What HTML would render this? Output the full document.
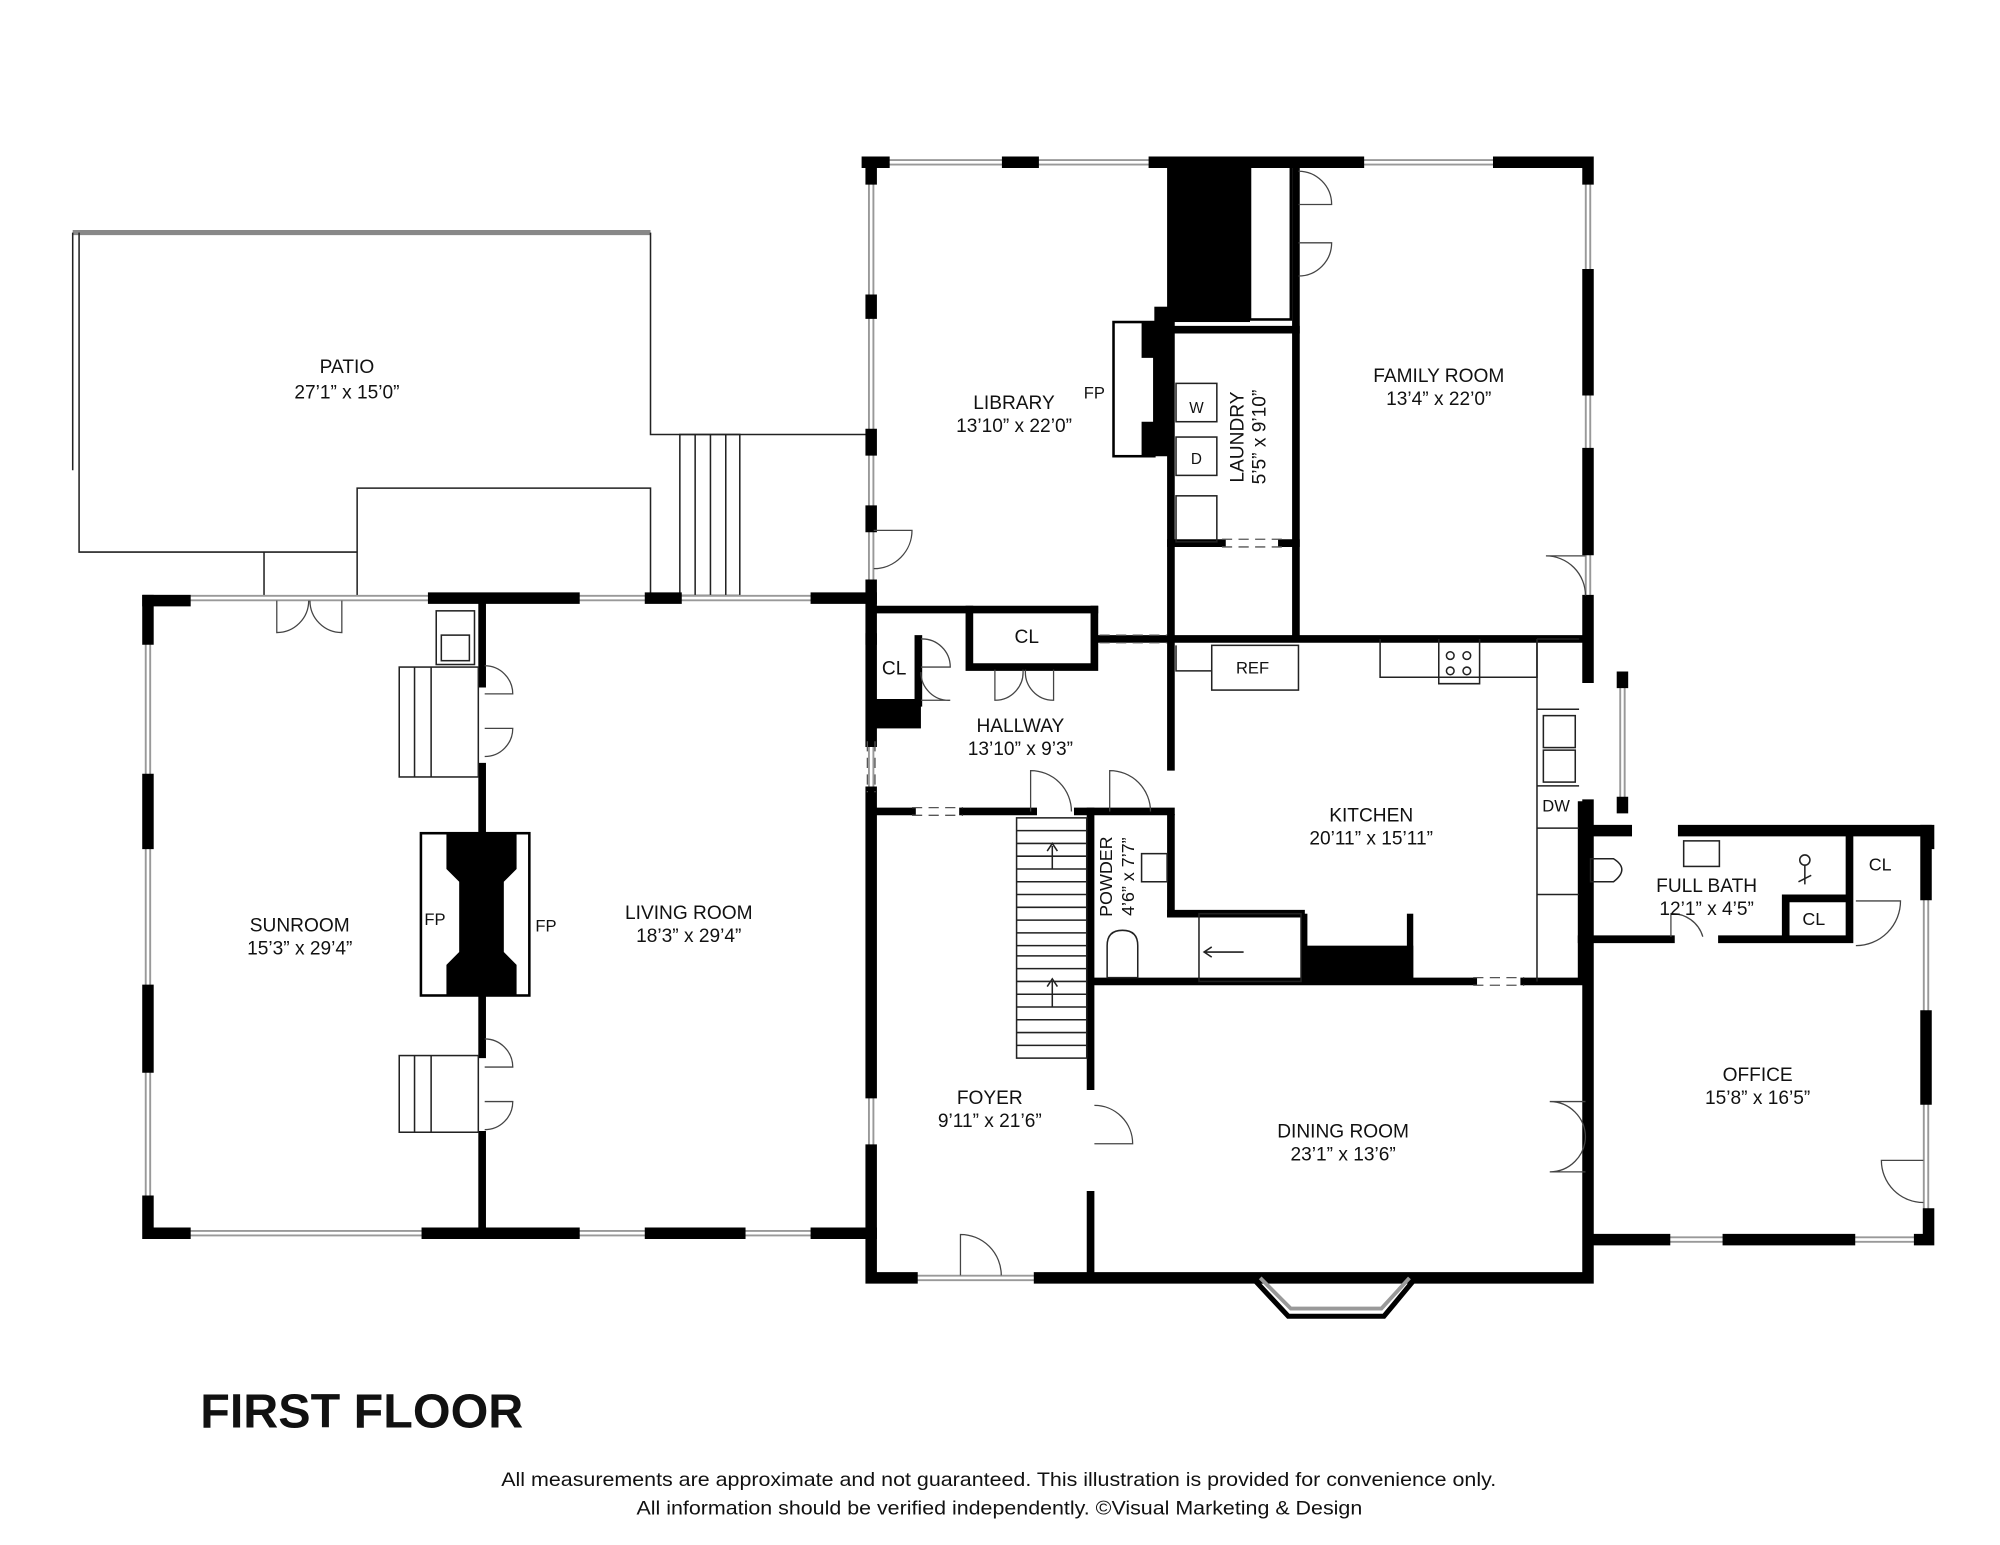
<!DOCTYPE html>
<html><head><meta charset="utf-8"><style>
html,body{margin:0;padding:0;background:#fff;}
svg{display:block}
text{font-family:"Liberation Sans",sans-serif;fill:#111}
.w{stroke:#000;stroke-width:9;stroke-linecap:square;fill:none}
.i{stroke:#000;stroke-width:6;stroke-linecap:square;fill:none}
.g{stroke:#999;stroke-width:5;fill:none}
.gi{stroke:#fff;stroke-width:2;fill:none}
.t{stroke:#222;stroke-width:1.2;fill:none}
.d{stroke:#444;stroke-width:1;fill:none}
</style></head><body>
<svg width="2000" height="1545" viewBox="0 0 1568 1209" preserveAspectRatio="none" xmlns="http://www.w3.org/2000/svg">
<rect width="1568" height="1209" fill="#fff"/>
<g class="t">
<path d="M57 182 L510 182"  stroke="#888" stroke-width="4"/>
<path d="M62 182 L62 432 L280 432"/>
<path d="M57 182 L57 368"/>
<path d="M510 182 L510 340 L683 340"/>
<path d="M280 466 L280 382 L510 382 L510 466"/>
<path d="M207 432 L207 466"/>
<rect x="533" y="340" width="47" height="126"/>
<path d="M545 340 V466 M557 340 V466 M569 340 V466"/>
</g>
<g class="g">
<path d="M116 470 V965 M112 468 H683 M112 965 H683 M683 127 V468 M680 127 H905 M1245 127 V500 M905 127 H1245 M1510 650 V970 M1245 970 H1512 M1272 530 V630 M683 580 V620 M683 855 V900 M715 1000 H815"/>
</g>
<g class="gi">
<path d="M116 470 V965 M112 468 H683 M112 965 H683 M683 127 V468 M680 127 H905 M1245 127 V500 M905 127 H1245 M1510 650 V970 M1245 970 H1512 M1272 530 V630 M683 580 V620 M683 855 V900 M715 1000 H815"/>
</g>
<g class="w">
<path d="M116 470 V500 M116 610 V660 M116 775 V835 M116 940 V965 H145"/>
<path d="M116 470 H145 M340 468 H450 M510 468 H530 M640 468 H683"/>
<path d="M335 965 H450 M510 965 H580 M640 965 H683"/>
<path d="M683 127 V140 M680 127 H693 M790 127 H810 M683 235 V245 M683 340 V352 M683 400 V412 M683 458 V500"/>
<path d="M905 127 H1065 M1175 127 H1245 V140 M1245 215 V305 M1245 355 V430 M1245 470 V530"/>
<path d="M683 500 V580 M683 620 V855 M683 900 V1000 H715 M815 1000 H1245 V975 M1245 630 V970 M1245 970 H1305 M1355 970 H1450 M1505 970 H1512 V950 M1510 650 V700 M1510 795 V860"/>
<path d="M1245 650 H1275 M1320 650 H1512 V660"/>
<path d="M1272 530 V534 M1272 628 V632"/>
</g>
<g class="i">
<path d="M378 468 V535 M378 600 V825 M378 888 V965"/>
<path d="M918 127 V500 M918 500 V600 M918 640 V715"/>
<path d="M1016 127 V498"/>
<path d="M918 258 H1016 M918 425 H958 M1005 425 H1016"/>
<path d="M918 500 H1240 M860 500 H918"/>
<path d="M683 477 H858 M683 635 H715 M755 635 H810 M845 635 H918"/>
<path d="M760 477 V522 H858 V477 M760 522"/>
<path d="M683 550 H720 V500"/>
<path d="M855 635 V768 M855 768 H1155 M1195 768 H1240 V630"/>
<path d="M855 768 V850 M855 935 V995"/>
<path d="M918 715 H1020"/>
<path d="M1240 735 H1310 M1350 735 H1450 V650 M1400 703 H1445 M1400 703 V735"/>
<path d="M1245 735 V860 M1245 920 V970"/>
</g>
<rect x="918" y="127" width="62" height="125" fill="#000"/>
<rect x="905" y="240" width="15" height="100" fill="#000"/>
<rect x="980" y="130" width="32" height="120" fill="none" stroke="#000" stroke-width="2"/>
<rect x="873" y="252" width="32" height="105" fill="#fff" stroke="#000" stroke-width="2"/>
<path d="M895 252 H918 V357 H895 V330 H905 V280 H895 Z" fill="#000"/>
<rect x="330" y="652" width="85" height="127" fill="#fff" stroke="#000" stroke-width="2"/>
<path d="M350 652 H405 V680 L395 690 V745 L405 755 V779 H350 V755 L360 745 V690 L350 680 Z" fill="#000"/>
<rect x="685" y="550" width="37" height="20" fill="#000"/>
<rect x="1020" y="740" width="88" height="28" fill="#000"/>
<rect x="1020" y="715" width="5" height="53" fill="#000"/>
<rect x="1103" y="715" width="5" height="53" fill="#000"/>
<g stroke="#555" stroke-width="1" stroke-dasharray="8,5" fill="none">
<path d="M958 422 H1005 M958 428 H1005 M862 497 H915 M862 503 H915 M715 632 H755 M715 638 H755 M1155 765 H1195 M1155 771 H1195 M680 580 V620 M686 580 V620"/>
</g>
<g class="t">
<rect x="922" y="300" width="32" height="30"/><rect x="922" y="342" width="32" height="30"/>
<rect x="922" y="388" width="32" height="36"/>
<rect x="950" y="505" width="68" height="35"/>
<path d="M922 505 V525 H950"/>
<path d="M1082 500 V530 H1205 V500 M1128 500 V535 H1160 V500"/>
<circle cx="1137" cy="513" r="3"/><circle cx="1150" cy="513" r="3"/><circle cx="1137" cy="525" r="3"/><circle cx="1150" cy="525" r="3"/>
<path d="M1205 500 H1238 M1205 500 V768 M1205 555 H1238 M1205 615 H1238 M1205 648 H1238 M1205 700 H1238"/>
<rect x="1210" y="560" width="25" height="25"/><rect x="1210" y="587" width="25" height="25"/>
<rect x="313" y="522" width="62" height="86"/><path d="M325 522 V608 M338 522 V608"/>
<rect x="313" y="826" width="62" height="60"/><path d="M325 826 V886 M338 826 V886"/>
<rect x="342" y="478" width="30" height="42"/><rect x="346" y="497" width="22" height="20"/>
<rect x="797" y="640" width="55" height="188"/>
<path d="M797 650 H852 M797 660 H852 M797 670 H852 M797 680 H852 M797 690 H852 M797 700 H852 M797 710 H852 M797 720 H852 M797 730 H852 M797 748 H852 M797 758 H852 M797 768 H852 M797 778 H852 M797 788 H852 M797 798 H852 M797 808 H852 M797 818 H852 M797 740 H852"/>
<path d="M825 662 V680 M821 666 L825 660 L829 666 M825 768 V788 M821 772 L825 766 L829 772"/>
<rect x="940" y="715" width="80" height="53"/>
<path d="M945 745 H975 M950 741 L944 745 L950 749"/>
<rect x="895" y="668" width="20" height="22"/>
<path d="M868 740 Q868 728 880 728 Q892 728 892 740 V765 H868 Z"/>
<path d="M1247 672 H1265 Q1278 680 1265 690 H1247 Z"/>
<rect x="1320" y="658" width="28" height="20"/>
<circle cx="1415" cy="673" r="4"/><path d="M1415 677 V692 M1410 690 L1420 685"/>
</g>
<g class="d">
<path d="M217 470 V495 A25 25 0 0 0 242 470 M268 470 V495 A25 25 0 0 1 243 470"/>
<path d="M380 543 H402 A22 22 0 0 0 380 521 M380 570 H402 A22 22 0 0 1 380 592"/>
<path d="M380 835 H402 A22 22 0 0 0 380 813 M380 862 H402 A22 22 0 0 1 380 884"/>
<path d="M685 415 H715 A30 30 0 0 1 685 445"/>
<path d="M722 522 H745 A22 22 0 0 0 722 500 M722 548 H745 A22 22 0 0 1 722 526"/>
<path d="M780 524 V548 A22 22 0 0 0 802 524 M826 524 V548 A22 22 0 0 1 804 524"/>
<path d="M808 635 V603 A32 32 0 0 1 840 635"/>
<path d="M870 635 V603 A32 32 0 0 1 902 635"/>
<path d="M1018 160 H1044 A26 26 0 0 0 1018 134 M1018 190 H1044 A26 26 0 0 1 1018 216"/>
<path d="M1243 435 H1212 A31 31 0 0 1 1243 466"/>
<path d="M858 895 H888 A30 30 0 0 0 858 865"/>
<path d="M1243 862 H1215 A28 28 0 0 1 1243 890 M1243 917 H1215 A28 28 0 0 0 1243 889"/>
<path d="M753 998 V966 A32 32 0 0 1 785 998"/>
<path d="M1508 908 H1475 A33 33 0 0 0 1508 941"/>
<path d="M1455 705 H1490 A35 35 0 0 1 1455 740"/>
<path d="M1310 733 V715 A25 25 0 0 1 1335 733"/>
</g>
<g fill="none">
<path d="M982 1000 L1010 1030 H1085 L1110 1000" stroke="#000" stroke-width="4"/>
<path d="M988 1000 L1012 1024 H1083 L1105 1000" stroke="#999" stroke-width="3"/>
</g>
<g font-size="15" text-anchor="middle">
<text x="272" y="292">PATIO</text><text x="272" y="312">27’1” x 15’0”</text>
<text x="795" y="320">LIBRARY</text><text x="795" y="338">13’10” x 22’0”</text>
<text x="858" y="312" font-size="13">FP</text>
<text x="938" y="323" font-size="12">W</text><text x="938" y="363" font-size="12">D</text>
<text x="1128" y="299">FAMILY ROOM</text><text x="1128" y="317">13’4” x 22’0”</text>
<text x="805" y="503">CL</text><text x="701" y="528">CL</text>
<text x="800" y="573">HALLWAY</text><text x="800" y="591">13’10” x 9’3”</text>
<text x="982" y="527" font-size="13">REF</text>
<text x="1075" y="643">KITCHEN</text><text x="1075" y="661">20’11” x 15’11”</text>
<text x="1220" y="635" font-size="13">DW</text>
<text x="1338" y="698">FULL BATH</text><text x="1338" y="716">12’1” x 4’5”</text>
<text x="1474" y="681" font-size="14">CL</text><text x="1422" y="724" font-size="14">CL</text>
<text x="235" y="729">SUNROOM</text><text x="235" y="747">15’3” x 29’4”</text>
<text x="540" y="719">LIVING ROOM</text><text x="540" y="737">18’3” x 29’4”</text>
<text x="341" y="724" font-size="13">FP</text><text x="428" y="729" font-size="13">FP</text>
<text x="776" y="864">FOYER</text><text x="776" y="882">9’11” x 21’6”</text>
<text x="1053" y="890">DINING ROOM</text><text x="1053" y="908">23’1” x 13’6”</text>
<text x="1378" y="846">OFFICE</text><text x="1378" y="864">15’8” x 16’5”</text>
</g>
<text transform="translate(975,342) rotate(-90)" font-size="15" text-anchor="middle">LAUNDRY</text>
<text transform="translate(992,342) rotate(-90)" font-size="15" text-anchor="middle">5’5” x 9’10”</text>
<text transform="translate(872,686) rotate(-90)" font-size="14" text-anchor="middle">POWDER</text>
<text transform="translate(889,686) rotate(-90)" font-size="14" text-anchor="middle">4’6” x 7’7”</text>
<text x="157" y="1117" font-size="38" font-weight="bold">FIRST FLOOR</text>
<g font-size="15">
<text x="393" y="1163" textLength="780" lengthAdjust="spacingAndGlyphs">All measurements are approximate and not guaranteed. This illustration is provided for convenience only.</text>
<text x="499" y="1185" textLength="569" lengthAdjust="spacingAndGlyphs">All information should be verified independently. ©Visual Marketing &amp; Design</text>
</g>
</svg>
</body></html>
